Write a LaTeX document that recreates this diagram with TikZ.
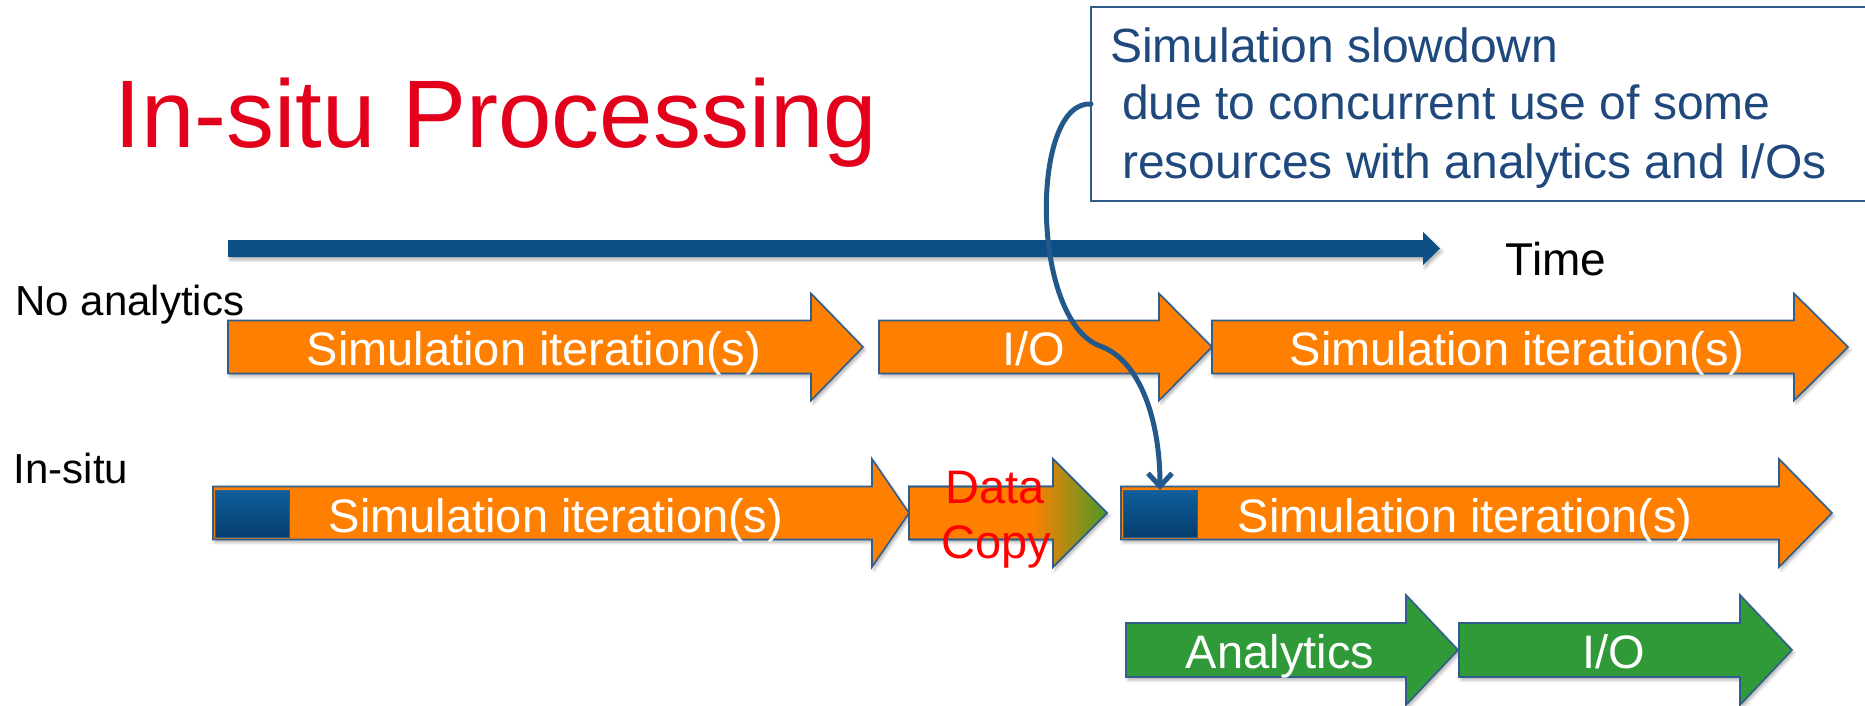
\documentclass[tikz,border=0pt]{standalone}
\usepackage{fontspec}
\setmainfont{Liberation Sans}
\usetikzlibrary{arrows.meta,shadows.blur}

\definecolor{simorange}{HTML}{FF8000}
\definecolor{arrowline}{HTML}{2F5E8C}
\definecolor{timeblue}{HTML}{0C4F86}
\definecolor{sqtop}{HTML}{0F5E9C}
\definecolor{sqbot}{HTML}{053E6E}
\definecolor{calltext}{HTML}{1F497D}
\definecolor{connblue}{HTML}{23598A}
\definecolor{anagreen}{HTML}{2F9A37}
\definecolor{copygreen}{HTML}{4A9A2A}
\definecolor{titlered}{HTML}{E2001A}
\definecolor{copyred}{HTML}{FF0000}

\tikzset{
  softshadow/.style={blur shadow={shadow xshift=2pt, shadow yshift=-3pt,
      shadow blur radius=3pt, shadow opacity=30}},
  blk/.style={draw=arrowline, line width=1.6pt, line join=miter,
      fill=simorange, softshadow},
  grn/.style={blk, fill=anagreen},
  outline/.style={draw=arrowline, line width=1.6pt, line join=miter},
  lbl/.style={font=\fontsize{47}{56}\selectfont, text=white,
      inner sep=0pt, anchor=base},
  rowlbl/.style={font=\fontsize{42}{50}\selectfont, text=black,
      inner sep=0pt, anchor=base},
  calltxt/.style={font=\fontsize{48}{58}\selectfont, text=calltext,
      inner sep=0pt, anchor=base west},
  sqr/.style={draw=arrowline, line width=1pt, top color=sqtop,
      bottom color=sqbot, inner sep=0pt, outer sep=0pt,
      minimum width=74pt, minimum height=47pt, anchor=north west},
  callbox/.style={draw=arrowline, line width=1.4pt, fill=white,
      inner sep=0pt, outer sep=0pt, anchor=north west},
  calloutlink/.style={draw=connblue, line cap=round,
      -{Straight Barb[length=13pt, width=24pt]}},
}

% block arrow: [style] x-start, head base x, tip x, centre y, body half height, head half height
\newcommand\blockarrow[7][]{%
  \path[#1] ({#2},{#5-#6}) -- ({#3},{#5-#6}) -- ({#3},{#5-#7}) -- ({#4},{#5})
    -- ({#3},{#5+#7}) -- ({#3},{#5+#6}) -- ({#2},{#5+#6}) -- cycle;}

\begin{document}
\begin{tikzpicture}[x=1pt, y=-1pt]
\useasboundingbox (0,0) rectangle (1865,706);
\clip (0,0) rectangle (1865,706);

% title
\node[font=\fontsize{96}{110}\selectfont, text=titlered, inner sep=0pt, anchor=base]
  (title) at (496,147) {In-situ Processing};

% callout box
\node[callbox, minimum width=800pt, minimum height=194pt] (callout) at (1091,7) {};
\node[calltxt] (cl1) at (1110,63) {Simulation slowdown};
\node[calltxt] (cl2) at (1122,120) {due to concurrent use of some};
\node[calltxt] (cl3) at (1122,178) {resources with analytics and I/Os};

% time axis
\path[fill=timeblue, softshadow] (228,240) -- (1423,240) -- (1423,232) -- (1440,248.5)
  -- (1423,265) -- (1423,257) -- (228,257) -- cycle;
\node[font=\fontsize{46}{54}\selectfont, inner sep=0pt, anchor=base] (time) at (1556,275) {Time};

% row labels
\node[rowlbl] (noana) at (130,315) {No analytics};
\node[rowlbl] (insitu) at (71,483) {In-situ};

% no analytics row
\blockarrow[blk]{228}{811}{863}{347}{26.5}{53.5}
\blockarrow[blk]{879}{1159}{1212}{347}{26.5}{53.5}
\blockarrow[blk]{1212}{1794}{1848}{347}{26.5}{53.5}
\node[lbl] (s1) at (534,365) {Simulation iteration(s)};
\node[lbl] (io1) at (1034,365) {I/O};
\node[lbl] (s2) at (1517,365) {Simulation iteration(s)};

% in-situ row
\blockarrow[blk]{213}{872}{909}{513}{26.5}{54}
\blockarrow[blk]{909}{1053}{1107}{513}{26.5}{54}
\begin{scope}
  \blockarrow[clip]{909}{1053}{1107}{513}{26.5}{54}
  \shade[left color=simorange, right color=copygreen] (1032,450) rectangle (1108,575);
\end{scope}
\blockarrow[outline]{909}{1053}{1107}{513}{26.5}{54}
\blockarrow[blk]{1121}{1779}{1832}{513}{26.5}{54}

\node[sqr] (sq1) at (215,490) {};
\node[sqr] (sq2) at (1123,490) {};

\node[lbl] (s3) at (556,532) {Simulation iteration(s)};
\node[lbl] (s4) at (1465,532) {Simulation iteration(s)};
\node[lbl, text=copyred] (data) at (995,503) {Data};
\node[lbl, text=copyred] (copy) at (996,558) {Copy};

% analytics row
\blockarrow[grn]{1126}{1406}{1458}{650}{27}{55}
\blockarrow[grn]{1459}{1740}{1792}{650}{27}{55}
\node[lbl] (ana) at (1280,668) {Analytics};
\node[lbl] (io2) at (1614,668) {I/O};

% connector from the callout to the slowed-down block
\draw[calloutlink, line width=5pt] (callout.west) .. controls (1030,100) and (1030,320) .. (1100,346)
  .. controls (1140,360) and (1160,420) .. (sq2.north);
\end{tikzpicture}
\end{document}
